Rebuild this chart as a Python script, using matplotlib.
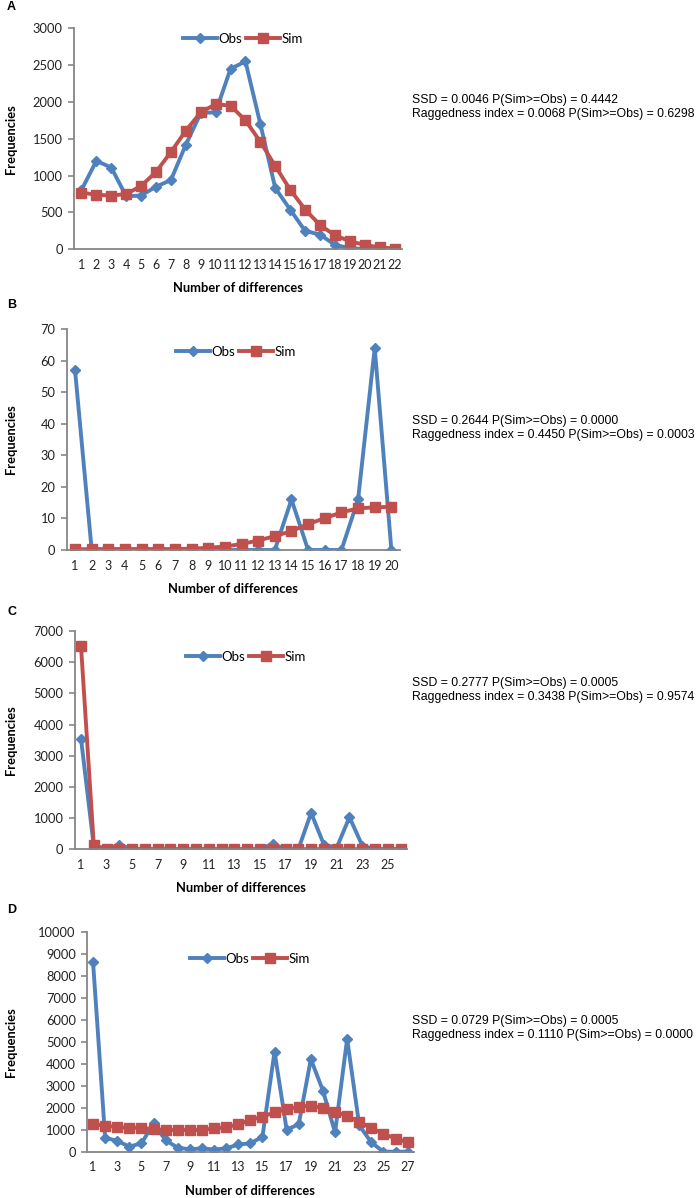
import matplotlib.pyplot as plt
import numpy as np

# values
obs_a = [805, 1200, 1110, 720, 730, 850, 940, 1420, 1850, 1860, 2450, 2550, 1700, 830, 540, 250, 200, 60, 15, 5, 10, 5]
sim_a = [770, 740, 730, 750, 860, 1050, 1320, 1610, 1860, 1970, 1950, 1750, 1460, 1130, 810, 540, 330, 190, 110, 60, 25, 10]

obs_b = [57, 0, 0, 0, 0, 0, 0, 0, 0, 0, 0, 0, 0, 16, 0, 0, 0, 16, 64, 0]
sim_b = [0.2, 0.3, 0.3, 0.3, 0.3, 0.3, 0.3, 0.4, 0.7, 1.1, 1.9, 3.0, 4.4, 6.0, 8.2, 10.1, 11.9, 13.2, 13.5, 13.7]

obs_c = [3550, 100, 0, 150, 0, 0, 0, 0, 0, 0, 0, 0, 0, 0, 0, 180, 0, 0, 1170, 150, 50, 1030, 120, 0, 0, 0]
sim_c = [6530, 140, 5, 5, 5, 5, 5, 5, 5, 5, 5, 5, 5, 5, 5, 5, 5, 5, 5, 5, 5, 5, 5, 5, 5, 5]

obs_d = [8630, 640, 490, 230, 380, 1290, 520, 180, 110, 150, 100, 150, 330, 380, 680, 4560, 990, 1260, 4220,
         2780, 880, 5140, 1200, 420, 0, 0, 0]
sim_d = [1250, 1190, 1120, 1090, 1090, 1020, 990, 990, 990, 990, 1060, 1110, 1250, 1440, 1600, 1790, 1930, 2050,
         2100, 1980, 1820, 1630, 1350, 1090, 810, 600, 430]

stats = [
    ("SSD = 0.0046 P(Sim>=Obs) = 0.4442", "Raggedness index = 0.0068 P(Sim>=Obs) = 0.6298"),
    ("SSD = 0.2644 P(Sim>=Obs) = 0.0000", "Raggedness index = 0.4450 P(Sim>=Obs) = 0.0003"),
    ("SSD = 0.2777 P(Sim>=Obs) = 0.0005", "Raggedness index = 0.3438 P(Sim>=Obs) = 0.9574"),
    ("SSD = 0.0729 P(Sim>=Obs) = 0.0005", "Raggedness index = 0.1110 P(Sim>=Obs) = 0.0000"),
]
letters = ['A', 'B', 'C', 'D']

W, H = 700, 1198
fig = plt.figure(figsize=(W / 100, H / 100), dpi=100)
blue = '#4F81BD'
red = '#C0504D'
grey = '#868686'


def panel(obs, sim, box, ymax, ystep, xstep, leg_xy, text_y, letter, letter_y, stat):
    left, top, right, bottom = box
    ax = fig.add_axes([left / W, 1 - bottom / H, (right - left) / W, (bottom - top) / H])
    x = np.arange(1, len(obs) + 1)
    ax.plot(x, obs, color=blue, lw=2.8, marker='D', ms=5.5, label='Obs')
    ax.plot(x, sim, color=red, lw=2.8, marker='s', ms=6.5, label='Sim')
    ax.set_xlim(0.5, len(obs) + 0.5)
    ax.set_ylim(0, ymax)
    ax.set_xticks(x[::xstep])
    ax.set_yticks(np.arange(0, ymax + 1, ystep))
    for s in ['top', 'right']:
        ax.spines[s].set_visible(False)
    for s in ['left', 'bottom']:
        ax.spines[s].set_color(grey)
        ax.spines[s].set_linewidth(1.3)
    ax.tick_params(axis='y', length=4, color=grey, width=1.2, pad=4, labelsize=9.3, labelcolor='#222222')
    ax.tick_params(axis='x', length=0, pad=7, labelsize=9.0, labelcolor='#222222')
    for lab in ax.get_xticklabels() + ax.get_yticklabels():
        lab.set_family('Lato')
    ax.set_xlabel('Number of differences', fontsize=9.3, fontweight='bold', family='Lato', labelpad=8)
    ax.set_ylabel('Frequencies', fontsize=9.3, fontweight='bold', family='Lato')
    ax.yaxis.set_label_coords((17 - left) / (right - left), 0.5)
    ax.legend(loc='center', bbox_to_anchor=(leg_xy[0] / W, 1 - leg_xy[1] / H), bbox_transform=fig.transFigure,
              ncol=2, frameon=False, numpoints=1, handlelength=2.6, handletextpad=0.1, columnspacing=0.3,
              prop={'family': 'Lato', 'size': 9.5})
    fig.text(7 / W, 1 - letter_y / H, letter, fontsize=9, fontweight='bold', family='Liberation Sans', va='center')
    fig.text(412 / W, 1 - text_y / H, stat[0] + '\n' + stat[1], fontsize=8.8, family='Liberation Sans',
             va='center', linespacing=1.15)


panel(obs_a, sim_a, (74, 28.3, 402, 249.3), 3000, 500, 1, (243, 39), 107, 'A', 7, stats[0])
panel(obs_b, sim_b, (66.7, 329, 399.7, 550), 70, 10, 1, (236, 352), 428, 'B', 305, stats[1])
panel(obs_c, sim_c, (74.6, 631, 407, 849.3), 7000, 1000, 2, (246, 657), 690, 'C', 612, stats[2])
panel(obs_d, sim_d, (87, 932.3, 413.7, 1151.7), 10000, 1000, 2, (250, 959), 1028, 'D', 910, stats[3])

fig.savefig('out.png', dpi=100)
